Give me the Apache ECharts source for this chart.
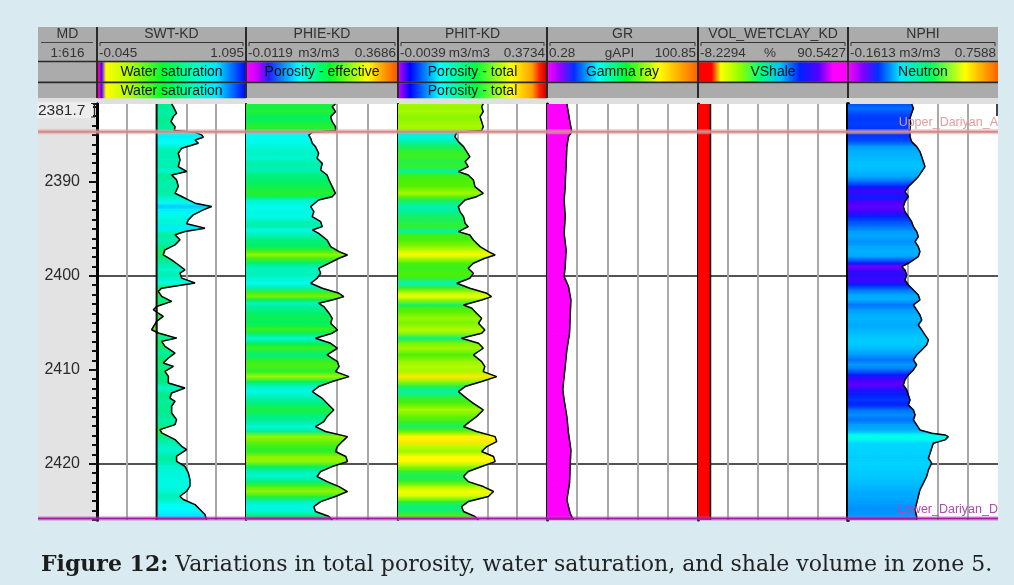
<!DOCTYPE html>
<html>
<head>
<meta charset="utf-8">
<title>Zone 5 log</title>
<script src="https://cdn.jsdelivr.net/npm/echarts@6/dist/echarts.min.js"></script>
<style>
  html, body { margin: 0; padding: 0; background: #d9eaf0; }
  #chart { width: 1014px; height: 585px; }
</style>
</head>
<body>
<div id="chart"></div>
<script>
// ---------------- depth window (m, MD) ----------------
const depthTop = 2381.7;
const depthBottom = 2426.0;

// ---------------- header texts ----------------
const trackTitles = ['MD', 'SWT-KD', 'PHIE-KD', 'PHIT-KD', 'GR', 'VOL_WETCLAY_KD', 'NPHI'];
const scaleLeft = ['1:616', '-0.045', '-0.0119', '-0.0039', '0.28', '-8.2294', '-0.1613'];
const scaleUnit = ['', '', 'm3/m3', 'm3/m3', 'gAPI', '%', 'm3/m3'];
const scaleRight = ['', '1.095', '0.3686', '0.3734', '100.85', '90.5427', '0.7588'];
const legendRow1 = ['', 'Water saturation', 'Porosity - effective', 'Porosity - total', 'Gamma ray', 'VShale', 'Neutron'];
const legendRow2 = ['', 'Water saturation', '', 'Porosity - total', '', '', ''];
const topDepthLabel = '2381.7';

// ---------------- curves ----------------
// water saturation (v/v)
const swtDepth = [2381.70,2381.98,2382.69,2383.04,2383.57,2384.11,2384.53,2384.71,2384.99,2385.24,
  2385.53,2385.88,2386.41,2386.94,2387.65,2388.36,2388.89,2389.25,2389.78,2390.49,
  2391.20,2391.55,2391.91,2392.26,2392.62,2392.97,2393.50,2394.04,2394.46,2394.92,
  2395.28,2395.63,2396.16,2396.70,2397.23,2397.76,2398.29,2398.82,2399.36,2399.71,
  2400.24,2400.77,2401.31,2401.66,2402.19,2402.72,2403.26,2403.61,2403.97,2404.32,
  2404.85,2405.74,2406.09,2406.63,2406.98,2407.51,2408.22,2408.75,2409.28,2409.64,
  2410.17,2410.70,2411.41,2411.94,2412.48,2413.01,2413.36,2413.89,2414.60,2415.31,
  2415.84,2416.38,2416.73,2417.44,2418.15,2418.50,2419.21,2419.75,2420.28,2420.99,
  2421.70,2422.40,2422.94,2423.47,2423.82,2424.36,2424.89,2425.42,2426.00];
const swtValue = [0.526,0.539,0.564,0.539,0.521,0.552,0.547,0.705,0.756,0.768,
  0.705,0.730,0.603,0.577,0.590,0.577,0.641,0.526,0.564,0.577,
  0.552,0.603,0.654,0.705,0.832,0.768,0.692,0.654,0.641,0.781,
  0.628,0.552,0.590,0.552,0.475,0.462,0.526,0.577,0.628,0.590,
  0.603,0.705,0.450,0.424,0.450,0.526,0.411,0.386,0.424,0.462,
  0.411,0.373,0.424,0.564,0.450,0.475,0.552,0.501,0.462,0.539,
  0.475,0.501,0.501,0.628,0.526,0.513,0.552,0.526,0.526,0.564,
  0.552,0.437,0.450,0.552,0.603,0.641,0.564,0.564,0.628,0.654,
  0.666,0.666,0.641,0.590,0.615,0.705,0.743,0.781,0.794];
const swtBaseline = 0.411;

// effective porosity (m3/m3)
const phieDepth = [2381.70,2381.98,2382.52,2383.05,2383.58,2384.11,2384.54,2384.72,2385.00,2385.35,
  2385.89,2386.24,2386.95,2387.48,2388.02,2388.73,2389.26,2389.79,2390.50,2391.21,
  2391.57,2391.92,2392.63,2393.16,2393.69,2394.23,2394.76,2395.11,2395.47,2396.18,
  2396.89,2397.42,2397.78,2398.13,2398.66,2399.20,2399.73,2400.26,2400.79,2401.32,
  2401.86,2402.21,2402.57,2402.92,2403.27,2403.98,2404.52,2405.05,2405.76,2406.11,
  2406.65,2407.18,2407.71,2408.42,2409.13,2409.66,2410.20,2410.73,2411.26,2411.79,
  2412.33,2413.04,2413.57,2414.28,2414.99,2415.52,2416.05,2416.58,2417.12,2417.65,
  2418.18,2418.71,2419.24,2419.78,2420.31,2420.84,2421.37,2421.91,2422.44,2422.97,
  2423.50,2424.04,2424.57,2425.10,2425.63,2426.00];
const phieValue = [0.212,0.204,0.212,0.200,0.204,0.212,0.212,0.154,0.145,0.150,
  0.154,0.162,0.170,0.166,0.179,0.175,0.191,0.196,0.204,0.212,
  0.204,0.170,0.150,0.158,0.154,0.175,0.179,0.154,0.170,0.191,
  0.200,0.221,0.242,0.221,0.196,0.170,0.175,0.166,0.150,0.179,
  0.221,0.233,0.204,0.170,0.183,0.196,0.204,0.200,0.217,0.204,
  0.162,0.200,0.217,0.191,0.217,0.221,0.212,0.246,0.204,0.170,
  0.154,0.179,0.191,0.208,0.191,0.183,0.162,0.187,0.242,0.229,
  0.217,0.212,0.238,0.242,0.204,0.175,0.166,0.191,0.221,0.242,
  0.212,0.175,0.158,0.162,0.196,0.204];

// total porosity (m3/m3)
const phitDepth = [2381.70,2381.98,2382.52,2383.05,2383.58,2384.11,2384.54,2384.72,2385.18,2385.71,
  2386.24,2386.77,2387.31,2387.84,2388.37,2388.90,2389.26,2389.79,2390.50,2391.21,
  2391.57,2391.92,2392.63,2393.16,2393.69,2394.40,2394.76,2395.29,2395.65,2396.18,
  2396.89,2397.42,2397.78,2398.13,2398.66,2399.20,2399.73,2400.26,2400.79,2401.32,
  2401.86,2402.21,2402.57,2403.10,2403.45,2403.98,2404.52,2405.05,2405.76,2406.11,
  2406.65,2407.18,2407.71,2408.42,2409.13,2409.66,2410.20,2410.73,2411.26,2411.79,
  2412.33,2413.04,2413.57,2414.28,2414.99,2415.52,2416.05,2416.58,2417.12,2417.65,
  2418.18,2418.71,2419.24,2419.78,2420.31,2420.84,2421.37,2421.91,2422.44,2422.97,
  2423.50,2424.04,2424.57,2425.10,2425.63,2426.00];
const phitValue = [0.212,0.208,0.212,0.204,0.208,0.212,0.208,0.145,0.140,0.149,
  0.162,0.170,0.178,0.166,0.174,0.149,0.174,0.187,0.191,0.212,
  0.195,0.166,0.149,0.153,0.162,0.166,0.174,0.149,0.178,0.187,
  0.204,0.225,0.242,0.216,0.187,0.174,0.187,0.178,0.145,0.178,
  0.221,0.233,0.208,0.162,0.183,0.195,0.208,0.200,0.216,0.208,
  0.157,0.200,0.212,0.187,0.208,0.216,0.212,0.246,0.208,0.166,
  0.149,0.170,0.187,0.212,0.195,0.178,0.162,0.195,0.242,0.246,
  0.221,0.208,0.238,0.242,0.208,0.174,0.162,0.174,0.212,0.238,
  0.225,0.174,0.157,0.162,0.191,0.200];

// gamma ray (gAPI)
const grDepth = [2381.70,2382.69,2383.76,2384.65,2385.18,2386.24,2388.37,2389.44,2390.50,2391.92,
  2393.69,2395.47,2397.24,2399.02,2400.08,2401.15,2402.57,2404.34,2406.11,2407.89,
  2409.66,2411.44,2412.15,2413.21,2414.99,2416.76,2418.54,2420.31,2422.08,2423.86,
  2425.28,2426.00];
const grValue = [13.5,14.6,15.7,16.8,14.6,13.5,13.0,12.6,12.4,11.7,
  12.4,11.7,13.0,12.4,11.7,14.6,16.2,15.7,15.3,13.5,
  12.4,11.2,10.8,11.7,13.5,14.6,16.2,15.7,15.3,13.5,
  15.7,17.9];

// wet clay volume (%)
const vshDepth = [2381.70, 2400.00, 2426.00];
const vshValue = [0, 0, 0];

// neutron porosity (m3/m3)
const nphiDepth = [2381.70,2382.16,2382.69,2383.23,2383.76,2384.29,2384.65,2385.18,2385.71,2386.24,
  2386.77,2387.31,2387.84,2388.37,2388.90,2389.44,2389.97,2390.50,2391.03,2391.57,
  2392.10,2392.63,2393.16,2393.69,2394.23,2394.76,2395.29,2395.82,2396.36,2396.89,
  2397.42,2397.95,2398.66,2399.02,2399.37,2399.90,2400.44,2400.97,2401.50,2402.03,
  2402.57,2403.10,2403.63,2404.16,2404.70,2405.23,2405.76,2406.29,2406.82,2407.36,
  2407.89,2408.42,2408.95,2409.49,2410.02,2410.55,2411.08,2411.62,2412.15,2412.68,
  2413.21,2413.74,2414.28,2414.81,2415.34,2415.87,2416.41,2416.76,2416.94,2417.12,
  2417.47,2417.83,2418.36,2418.89,2419.42,2419.95,2420.66,2421.37,2422.08,2422.79,
  2423.50,2424.21,2424.92,2425.63,2426.00];
const nphiValue = [0.229,0.240,0.229,0.219,0.223,0.219,0.219,0.219,0.229,0.260,
  0.280,0.291,0.301,0.311,0.291,0.270,0.240,0.209,0.188,0.209,
  0.188,0.178,0.188,0.209,0.229,0.240,0.260,0.270,0.250,0.270,
  0.280,0.270,0.209,0.168,0.188,0.199,0.188,0.209,0.240,0.270,
  0.280,0.240,0.260,0.280,0.291,0.270,0.291,0.311,0.332,0.321,
  0.291,0.260,0.240,0.260,0.240,0.209,0.188,0.178,0.199,0.209,
  0.219,0.209,0.240,0.250,0.240,0.260,0.280,0.352,0.434,0.454,
  0.434,0.362,0.352,0.342,0.332,0.352,0.332,0.321,0.301,0.280,
  0.270,0.260,0.250,0.260,0.260];

// formation tops
const formationNames = ['Upper_Dariyan_A', 'Lower_Dariyan_D'];
const formationDepths = [2384.65, 2425.85];

const captionLabel = 'Figure 12:';
const captionText = 'Variations in total porosity, water saturation, and shale volume in zone 5.';

// ---------------- layout & styling ----------------
const colEdges = [38, 97, 246, 398, 547, 698, 848, 998];
const HEAD_TOP = 27, TRACK_TOP = 104, TRACK_H = 416;
const SANS = '"Liberation Sans", Arial, sans-serif';
const SERIF = '"DejaVu Serif", "Liberation Serif", serif';

const barStops = [
  null,
  [[0,'#c00040'],[0.015,'#ff00c0'],[0.03,'#4000ff'],[0.06,'#ffff00'],[0.22,'#b0ff00'],[0.44,'#00ff30'],[0.66,'#00ffc0'],[0.8,'#00e8ff'],[0.92,'#0060ff'],[1,'#0000ff']],
  [[0,'#ff00ff'],[0.08,'#c000ff'],[0.15,'#2020ff'],[0.35,'#00ffff'],[0.55,'#00ff30'],[0.8,'#ffff00'],[0.92,'#ff9000'],[1,'#ff5000']],
  [[0,'#d000ff'],[0.08,'#0000ff'],[0.28,'#00ffff'],[0.52,'#00ff40'],[0.76,'#ffff00'],[0.9,'#ffa000'],[0.95,'#ff2000'],[1,'#c00000']],
  [[0,'#ff00ff'],[0.08,'#a000ff'],[0.18,'#0030ff'],[0.34,'#00ffff'],[0.52,'#00ff30'],[0.74,'#ffff00'],[1,'#ff6000']],
  [[0,'#ff0000'],[0.09,'#ff0000'],[0.15,'#ffff00'],[0.28,'#90ff00'],[0.42,'#00ff80'],[0.55,'#00c0ff'],[0.68,'#0020ff'],[0.8,'#5000ff'],[0.9,'#ff00ff'],[1,'#ff00ff']],
  [[0,'#ff00ff'],[0.1,'#8000ff'],[0.2,'#0030ff'],[0.35,'#00e8ff'],[0.55,'#00ff60'],[0.78,'#ffff00'],[1,'#ff6000']]
];

// value -> colour ramps used for the track fills
const swtRamp  = [[0.36,'#a8f000'],[0.42,'#30f030'],[0.50,'#00ec80'],[0.58,'#00f0b0'],[0.66,'#00f8e0'],[0.74,'#00ffff'],[0.80,'#00e0ff'],[0.86,'#00b4ff']];
const phieRamp = [[0.14,'#00ffff'],[0.16,'#00f8e0'],[0.18,'#00f0a8'],[0.20,'#00f060'],[0.215,'#30f020'],[0.23,'#70f000'],[0.25,'#b0f800']];
const phitRamp = [[0.14,'#00f4e0'],[0.155,'#00f090'],[0.17,'#30f030'],[0.19,'#50f000'],[0.21,'#a0f800'],[0.23,'#e0ff00'],[0.24,'#ffff00'],[0.25,'#ffd800']];
const nphiRamp = [[0.17,'#7000ff'],[0.19,'#4000ff'],[0.21,'#0020ff'],[0.23,'#0050ff'],[0.25,'#0090ff'],[0.27,'#00a8ff'],[0.30,'#00bcff'],[0.34,'#00d0ff'],[0.40,'#00e8ff'],[0.45,'#00ffe8']];

function hexToRgb(h) { const n = parseInt(h.slice(1), 16); return [(n >> 16) & 255, (n >> 8) & 255, n & 255]; }
function ramp(stops) {
  return function (v) {
    if (v <= stops[0][0]) return stops[0][1];
    for (let k = 1; k < stops.length; k++) {
      if (v <= stops[k][0]) {
        const t = (v - stops[k - 1][0]) / (stops[k][0] - stops[k - 1][0]);
        const a = hexToRgb(stops[k - 1][1]), b = hexToRgb(stops[k][1]);
        return 'rgb(' + a.map((c, j) => Math.round(c + (b[j] - c) * t)).join(',') + ')';
      }
    }
    return stops[stops.length - 1][1];
  };
}
const solid = c => () => c;

const tracks = [
  { col: 1, depth: swtDepth,  value: swtValue,  base: swtBaseline, color: ramp(swtRamp),  border: 3 },
  { col: 2, depth: phieDepth, value: phieValue, base: null,        color: ramp(phieRamp), border: 2 },
  { col: 3, depth: phitDepth, value: phitValue, base: null,        color: ramp(phitRamp), border: 2 },
  { col: 4, depth: grDepth,   value: grValue,   base: null,        color: solid('#ff00ff'), border: 3 },
  { col: 5, depth: vshDepth,  value: vshValue,  base: null,        color: solid('#ff0000'), border: 3 },
  { col: 6, depth: nphiDepth, value: nphiValue, base: null,        color: ramp(nphiRamp), border: 4 }
];

// polygon band between base value and the curve, shaded by the curve value
function fillRenderer(base, colorOf) {
  return function (params, api) {
    const v0 = api.value(0), d0 = api.value(1), v1 = api.value(2), d1 = api.value(3);
    const a = api.coord([base, d0]), b = api.coord([v0, d0]);
    const c = api.coord([v1, d1]), e = api.coord([base, d1]);
    const grad = new echarts.graphic.LinearGradient(0, 0, 0, 1, [
      { offset: 0, color: colorOf(v0) }, { offset: 1, color: colorOf(v1) }
    ]);
    return { type: 'polygon', shape: { points: [a, b, c, e] }, style: { fill: grad, stroke: grad, lineWidth: 1 } };
  };
}

const grid = [], xAxis = [], yAxis = [], series = [];

tracks.forEach((t, i) => {
  const L = colEdges[t.col], R = colEdges[t.col + 1];
  const min = parseFloat(scaleLeft[t.col]), max = parseFloat(scaleRight[t.col]);
  grid.push({ left: L, top: TRACK_TOP, width: R - L, height: TRACK_H, show: true, backgroundColor: '#ffffff', borderWidth: 0 });
  // curve scale
  xAxis.push({ gridIndex: i, type: 'value', min: min, max: max, position: 'bottom', show: false });
  // five linear divisions for the vertical grid
  xAxis.push({ gridIndex: i, type: 'value', min: 0, max: 5, interval: 1, position: 'top',
    axisLine: { show: false }, axisTick: { show: false }, axisLabel: { show: false },
    splitLine: { show: true, showMinLine: false, showMaxLine: false, lineStyle: { color: '#a9a9a9', width: 2 } } });
  // depth scale with 20 m lines
  yAxis.push({ gridIndex: i, type: 'value', inverse: true, min: depthTop, max: depthBottom,
    minInterval: 20, maxInterval: 20, position: 'left',
    axisLine: { show: true, onZero: false, lineStyle: { color: '#000', width: t.border } },
    axisTick: { show: false }, axisLabel: { show: false },
    splitLine: { show: true, showMinLine: false, showMaxLine: false, lineStyle: { color: '#1a1a1a', width: 1.5 } } });

  const base = t.base === null ? min : t.base;
  const segs = [];
  for (let k = 0; k < t.depth.length - 1; k++) {
    segs.push([t.value[k], t.depth[k], t.value[k + 1], t.depth[k + 1]]);
  }
  series.push({ type: 'custom', coordinateSystem: 'cartesian2d', xAxisIndex: 2 * i, yAxisIndex: i,
    silent: true, z: 2, clip: true, data: segs, encode: { x: [0, 2], y: [1, 3] },
    renderItem: fillRenderer(base, t.color) });
  if (t.base !== null) {
    series.push({ type: 'line', xAxisIndex: 2 * i, yAxisIndex: i, silent: true, z: 4, symbol: 'none',
      data: [[t.base, depthTop], [t.base, depthBottom]], lineStyle: { color: '#111', width: 2 } });
  }
  series.push({ type: 'line', xAxisIndex: 2 * i, yAxisIndex: i, silent: true, z: 5, symbol: 'none',
    clip: true, data: t.depth.map((d, k) => [t.value[k], d]),
    lineStyle: { color: '#000', width: 1.5 } });
});

// measured-depth axis: 10 m labels and 1 m ticks
yAxis.push({ gridIndex: 0, type: 'value', inverse: true, min: depthTop, max: depthBottom,
  minInterval: 10, maxInterval: 10, position: 'left',
  axisLine: { show: true, onZero: false, lineStyle: { color: '#000', width: 3 } },
  axisTick: { show: true, length: 8, lineStyle: { color: '#111', width: 2 } },
  axisLabel: { show: true, margin: 17, fontSize: 16, fontFamily: SANS, color: '#2b2b2b',
    showMinLabel: false, showMaxLabel: false, formatter: v => String(v) },
  splitLine: { show: false } });
yAxis.push({ gridIndex: 0, type: 'value', inverse: true, min: depthTop, max: depthBottom,
  minInterval: 1, maxInterval: 1, position: 'left',
  axisLine: { show: false, onZero: false },
  axisTick: { show: true, length: 5, lineStyle: { color: '#111', width: 2 } },
  axisLabel: { show: false }, splitLine: { show: false } });

// formation tops across all tracks
const overlayGrid = grid.length;
grid.push({ left: colEdges[0], top: TRACK_TOP, width: colEdges[7] - colEdges[0], height: TRACK_H });
xAxis.push({ gridIndex: overlayGrid, type: 'value', min: 0, max: 1, show: false });
yAxis.push({ gridIndex: overlayGrid, type: 'value', inverse: true, min: depthTop, max: depthBottom, show: false });
const topStyles = [
  { line: '#d48a8a', halo: 'rgba(225,160,160,0.55)', text: '#e09c9c' },
  { line: '#a818a8', halo: 'rgba(190,90,190,0.35)', text: '#b048b0' }
];
series.push({ type: 'custom', coordinateSystem: 'cartesian2d', xAxisIndex: xAxis.length - 1, yAxisIndex: yAxis.length - 1,
  silent: true, z: 10, clip: false,
  data: formationDepths.map((d, i) => [1, d, i]),
  renderItem: function (params, api) {
    const d = api.value(1), idx = api.value(2);
    const pL = api.coord([0, d]), pR = api.coord([1, d]);
    const st = topStyles[idx];
    return { type: 'group', children: [
      { type: 'line', shape: { x1: pL[0], y1: pL[1], x2: pR[0], y2: pR[1] }, style: { stroke: st.halo, lineWidth: 5 } },
      { type: 'line', shape: { x1: pL[0], y1: pL[1], x2: pR[0], y2: pR[1] }, style: { stroke: st.line, lineWidth: 2 } },
      { type: 'text', style: { text: formationNames[idx], x: pR[0], y: pL[1] - 3,
          align: 'right', textAlign: 'right', verticalAlign: 'bottom', textVerticalAlign: 'bottom',
          fill: st.text, font: '12.5px ' + SANS } }
    ] };
  } });

// ---------------- header ----------------
const graphic = [];
const L0 = colEdges[0], R0 = colEdges[7];
graphic.push({ type: 'rect', z: -5, shape: { x: L0, y: HEAD_TOP, width: R0 - L0, height: 71 }, style: { fill: '#ababab' } });
graphic.push({ type: 'rect', z: -5, shape: { x: L0, y: 98, width: R0 - L0, height: 6 }, style: { fill: '#dfdfdf' } });
graphic.push({ type: 'rect', z: -5, shape: { x: L0, y: TRACK_TOP, width: colEdges[1] - L0, height: TRACK_H }, style: { fill: '#e3e3e3' } });

function txt(text, x, y, align, size, color) {
  return { type: 'text', z: 3, style: { text: text, x: x, y: y, align: align, textAlign: align,
    verticalAlign: 'middle', textVerticalAlign: 'middle', font: size + 'px ' + SANS, fill: color } };
}
function barGradient(stops) {
  return new echarts.graphic.LinearGradient(0, 0, 1, 0, stops.map(s => ({ offset: s[0], color: s[1] })));
}

for (let c = 0; c < 7; c++) {
  const L = colEdges[c], R = colEdges[c + 1], mid = (L + R) / 2;
  graphic.push(txt(trackTitles[c], mid, 34, 'center', 14, '#333'));
  if (c === 0) {
    graphic.push({ type: 'line', z: 2, shape: { x1: L + 3, y1: 42.5, x2: R - 4, y2: 42.5 }, style: { stroke: '#444', lineWidth: 1 } });
    graphic.push(txt(scaleLeft[c], mid, 53, 'center', 13.5, '#333'));
  } else {
    graphic.push({ type: 'polyline', z: 2, shape: { points: [[L + 3, 46], [L + 3, 42.5], [R - 3, 42.5], [R - 3, 46]] },
      style: { stroke: '#333', lineWidth: 1, fill: null } });
    graphic.push(txt(scaleLeft[c], L + 2, 53, 'left', 13.5, '#333'));
    if (scaleUnit[c]) graphic.push(txt(scaleUnit[c], mid - 3, 53, 'center', 13.5, '#333'));
    graphic.push(txt(scaleRight[c], R - 2, 53, 'right', 13.5, '#333'));
  }
  if (legendRow1[c]) {
    graphic.push({ type: 'rect', z: 1, shape: { x: L, y: 62.3, width: R - L, height: 19.4 }, style: { fill: barGradient(barStops[c]) } });
    graphic.push(txt(legendRow1[c], mid, 72, 'center', 14, '#111'));
  }
  if (legendRow2[c]) {
    graphic.push({ type: 'rect', z: 1, shape: { x: L, y: 83.2, width: R - L, height: 15 }, style: { fill: barGradient(barStops[c]) } });
    graphic.push(txt(legendRow2[c], mid, 91, 'center', 14, '#111'));
  }
}
// header rules
graphic.push({ type: 'line', z: 2, shape: { x1: L0, y1: 61.5, x2: R0, y2: 61.5 }, style: { stroke: '#2a2a2a', lineWidth: 1.6 } });
graphic.push({ type: 'line', z: 2, shape: { x1: L0, y1: 82.4, x2: R0, y2: 82.4 }, style: { stroke: '#2a2a2a', lineWidth: 1.6 } });
for (let c = 1; c < 7; c++) {
  graphic.push({ type: 'line', z: 2, shape: { x1: colEdges[c], y1: HEAD_TOP, x2: colEdges[c], y2: 98 }, style: { stroke: '#2a2a2a', lineWidth: 2 } });
}
// top depth box
graphic.push({ type: 'rect', z: 3, shape: { x: 37, y: 102, width: 56, height: 16 }, style: { fill: '#ededed' } });
graphic.push({ type: 'polyline', z: 3, shape: { points: [[91, 103.5], [94.5, 103.5], [94.5, 117], [91, 117]] }, style: { stroke: '#222', lineWidth: 1.2, fill: null } });
graphic.push(txt(topDepthLabel, 38, 110.5, 'left', 15.5, '#2b2b2b'));
// clipped label stub at right edge
graphic.push({ type: 'rect', z: 12, shape: { x: 996, y: 104, width: 2, height: 12 }, style: { fill: '#444' } });

const chart = echarts.init(document.getElementById('chart'), null, { renderer: 'canvas' });
chart.setOption({
  backgroundColor: '#d9eaf0',
  animation: false,
  title: {
    text: '{b|' + captionLabel + '}{n| ' + captionText + '}',
    left: 36, top: 549,
    textStyle: { rich: {
      b: { fontFamily: SERIF, fontWeight: 'bold', fontSize: 22, color: '#1c1c1c' },
      n: { fontFamily: SERIF, fontWeight: 'normal', fontSize: 22, color: '#222' }
    } }
  },
  grid: grid, xAxis: xAxis, yAxis: yAxis, series: series, graphic: graphic
});
</script>
</body>
</html>
